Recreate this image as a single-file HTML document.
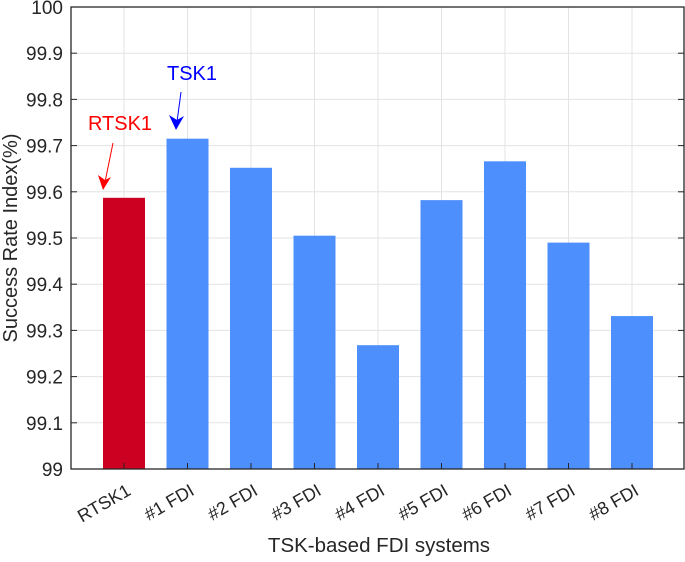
<!DOCTYPE html>
<html><head><meta charset="utf-8"><style>
body{margin:0;background:#fff;}
svg text{font-family:"Liberation Sans",Arial,sans-serif;}
</style></head><body>
<svg id="chart" width="685" height="557" viewBox="0 0 685 557">
<g id="grid"></g>
<g id="bars"></g>
<g id="axes"></g>
<text x="17" y="238" font-size="20" fill="#262626" text-anchor="middle" transform="rotate(-90 17 238)">Success Rate Index(%)</text>
<text x="379" y="552" font-size="20.5" fill="#262626" text-anchor="middle">TSK-based FDI systems</text>
<text x="120" y="130" font-size="20" fill="#ff0000" text-anchor="middle">RTSK1</text>
<line x1="113" y1="143" x2="105" y2="182" stroke="#ff0000" stroke-width="1"/>
<polygon points="103,190 98,175 105,180 111,177" fill="#ff0000"/>
<text x="192" y="80" font-size="20" fill="#0000ff" text-anchor="middle">TSK1</text>
<line x1="181" y1="92" x2="177" y2="122" stroke="#0000ff" stroke-width="1"/>
<polygon points="176,130 169,115 177,120 184,116" fill="#0000ff"/>
</svg>
<script>
const categories=["RTSK1","#1 FDI","#2 FDI","#3 FDI","#4 FDI","#5 FDI","#6 FDI","#7 FDI","#8 FDI"];
const values=[99.587,99.715,99.652,99.505,99.268,99.582,99.666,99.490,99.331];
const yTicks=[99,99.1,99.2,99.3,99.4,99.5,99.6,99.7,99.8,99.9,100];
const yTickLabels=["99","99.1","99.2","99.3","99.4","99.5","99.6","99.7","99.8","99.9","100"];
const NS="http://www.w3.org/2000/svg";
const L=71,R=684,T=7,B=469,ymin=99,ymax=100;
const xs=i=>124+i*63.5;
const ys=v=>B-(v-ymin)/(ymax-ymin)*(B-T);
function mk(tag,attrs,parent){const e=document.createElementNS(NS,tag);for(const k in attrs)e.setAttribute(k,attrs[k]);parent.appendChild(e);return e;}
const grid=document.getElementById('grid'),bars=document.getElementById('bars'),axes=document.getElementById('axes');
yTicks.forEach((t,i)=>{
 const g=mk('line',{x1:L,x2:R,y1:ys(t),y2:ys(t),stroke:'#e3e3e3','stroke-width':1},grid);
 
 
 const tk=mk('line',{x1:L,x2:L+6,y1:ys(t),y2:ys(t),stroke:'#262626'},axes);
 
 
 const tk2=mk('line',{x1:R-6,x2:R,y1:ys(t),y2:ys(t),stroke:'#262626'},axes);
 
 
 const tx=mk('text',{x:L-8,y:ys(t)+7,'font-size':19,fill:'#262626','text-anchor':'end'},axes);
 tx.textContent=yTickLabels[i];
 
 
});
categories.forEach((c,i)=>{
 const x=xs(i);
 const g=mk('line',{x1:x,x2:x,y1:T,y2:B,stroke:'#e3e3e3'},grid);
 
 
 const b=mk('rect',{x:x-21,y:ys(values[i]),width:42,height:B-ys(values[i]),fill:i===0?'#cc0020':'#4d8ffc'},bars);
 
 
 const tk=mk('line',{x1:x,x2:x,y1:B-6,y2:B,stroke:'#262626'},axes);
 
 
 const tx=mk('text',{x:x+8,y:B+25,'font-size':18,fill:'#262626','text-anchor':'end',transform:'rotate(-30 '+(x+8)+' '+(B+25)+')'},axes);
 tx.textContent=c;
 
 
});
const box=mk('rect',{x:L,y:T,width:R-L,height:B-T,fill:'none',stroke:'#262626','stroke-width':1.3},axes);


</script>
</body></html>
